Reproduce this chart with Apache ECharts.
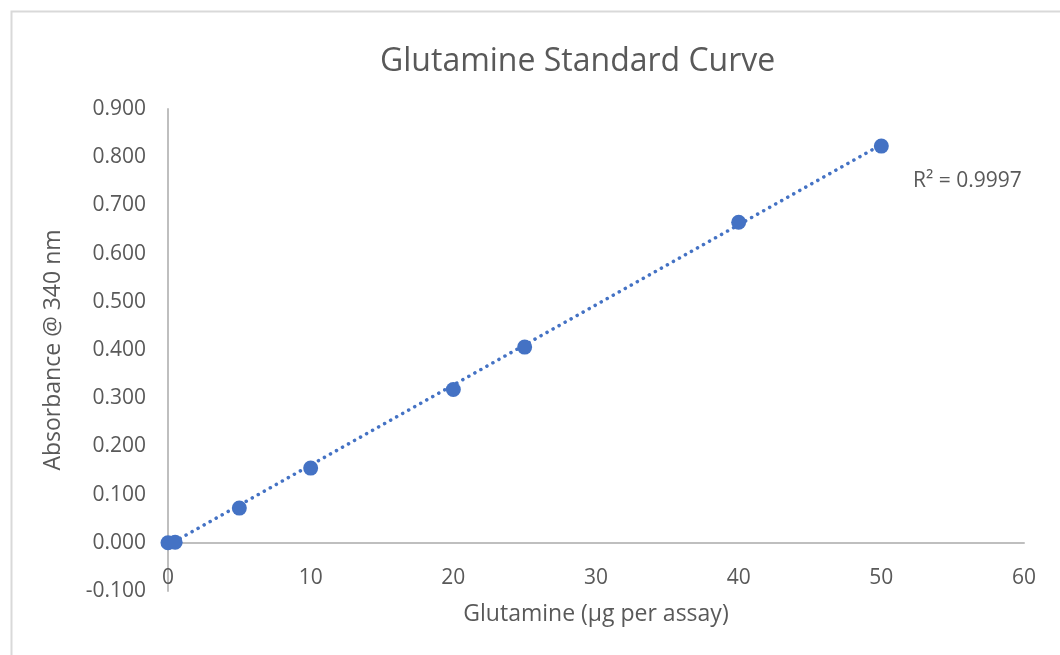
<!DOCTYPE html>
<html>
<head>
<meta charset="utf-8">
<script src="https://cdn.jsdelivr.net/npm/echarts@6/dist/echarts.min.js"></script>
<style>
  html, body { margin: 0; padding: 0; background: #fff; }
  #chart { width: 1060px; height: 655px; }
</style>
</head>
<body>
<div id="chart"></div>
<script>
// glutamine amount (ug per assay) and absorbance
const glutamine = [0, 0.5, 5, 10, 20, 25, 40, 50];
const absorbance = [0.000, 0.001, 0.072, 0.155, 0.318, 0.406, 0.665, 0.823];
// linear trendline end points, as drawn
const trendX = [0, 50];
const trendY = [-0.005, 0.826];
const rSquared = 'R² = 0.9997';

const points = glutamine.map((x, i) => [x, absorbance[i]]);
const trend = trendX.map((x, i) => [x, trendY[i]]);

const font = '"Open Sans", sans-serif';
const grey = '#595959';

const myChart = echarts.init(document.getElementById('chart'));
myChart.setOption({
  animation: false,
  backgroundColor: '#fff',
  title: {
    text: 'Glutamine Standard Curve',
    left: 375,
    top: 41,
    textStyle: { color: grey, fontSize: 32, fontWeight: 'normal', fontFamily: font }
  },
  grid: { left: 168, right: 36, top: 109, bottom: 64, containLabel: false, outerBoundsMode: 'none' },
  xAxis: {
    type: 'value',
    min: 0, max: 60, interval: 10,
    // axis sits on the 0.000 line, 48px above the grid bottom
    offset: -48,
    name: 'Glutamine (µg per assay)',
    nameLocation: 'middle',
    nameGap: 60,
    nameTextStyle: { color: grey, fontSize: 23, fontFamily: font },
    axisLine: { onZero: false, lineStyle: { color: '#bfbfbf', width: 2 } },
    axisTick: { show: false },
    splitLine: { show: false },
    axisLabel: { color: grey, fontSize: 21, fontFamily: font, margin: 25 }
  },
  yAxis: {
    type: 'value',
    min: -0.1, max: 0.9, interval: 0.1,
    name: 'Absorbance @ 340 nm',
    nameLocation: 'middle',
    nameGap: 103,
    nameTextStyle: { color: grey, fontSize: 23, fontFamily: font },
    axisLine: { show: true, onZero: false, lineStyle: { color: '#bfbfbf', width: 2 } },
    axisTick: { show: false },
    splitLine: { show: false },
    axisLabel: {
      color: grey, fontSize: 21, fontFamily: font, margin: 22,
      formatter: v => v.toFixed(3)
    }
  },
  graphic: [
    {
      type: 'rect',
      left: 9, top: 9,
      shape: { width: 1100, height: 700 },
      style: { fill: 'none', stroke: '#d9d9d9', lineWidth: 2 },
      silent: true
    },
    {
      type: 'text',
      left: 913, top: 171,
      style: { text: rSquared, fill: grey, fontSize: 21, fontFamily: font }
    }
  ],
  series: [
    {
      name: 'Trendline',
      type: 'line',
      data: trend,
      symbol: 'none',
      lineStyle: { color: '#4472C4', width: 3.5, type: [0.1, 6.8], cap: 'round' },
      z: 2
    },
    {
      name: 'Absorbance',
      type: 'scatter',
      data: points,
      symbolSize: 15,
      itemStyle: { color: '#4472C4', opacity: 1 },
      z: 3
    }
  ]
});
</script>
</body>
</html>
